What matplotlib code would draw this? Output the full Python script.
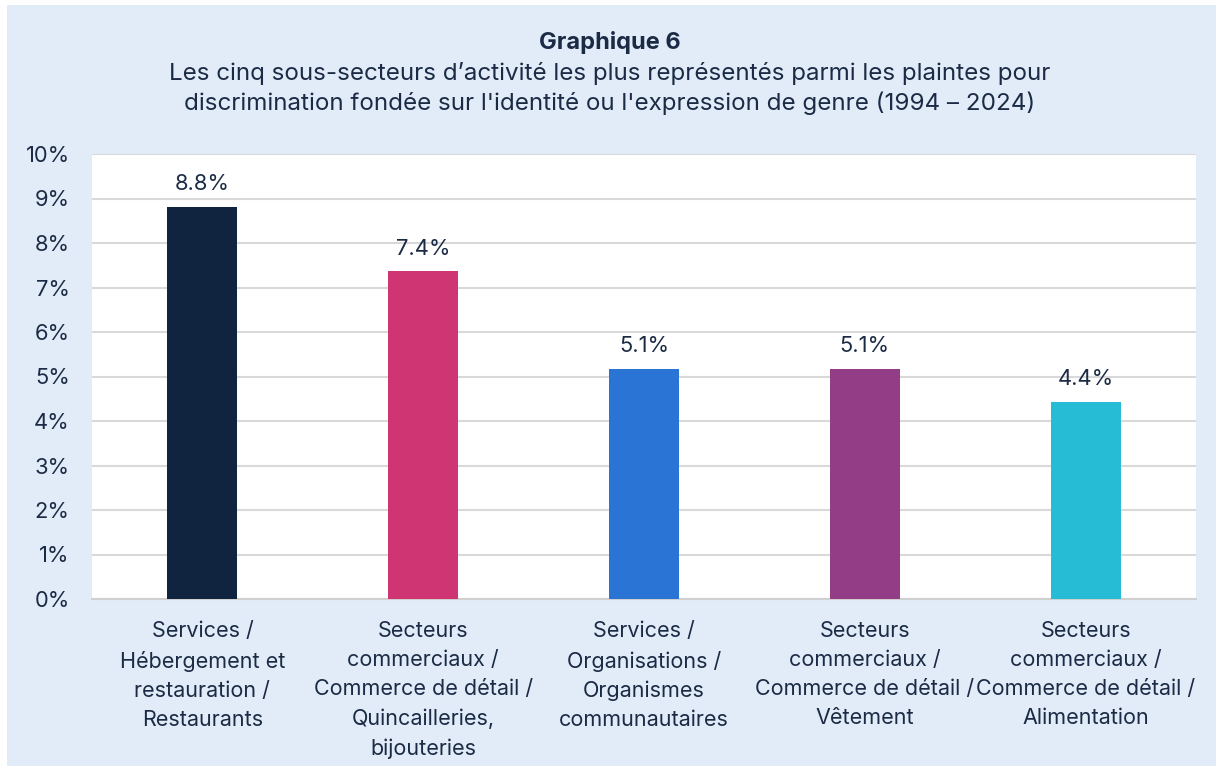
import matplotlib.pyplot as plt
from matplotlib.patches import Rectangle
from matplotlib.ticker import MultipleLocator, FuncFormatter

categories = [
    "Services /\nHébergement et\nrestauration /\nRestaurants",
    "Secteurs\ncommerciaux /\nCommerce de détail /\nQuincailleries,\nbijouteries",
    "Services /\nOrganisations /\nOrganismes\ncommunautaires",
    "Secteurs\ncommerciaux /\nCommerce de détail /\nVêtement",
    "Secteurs\ncommerciaux /\nCommerce de détail /\nAlimentation",
]
values = [8.8, 7.4, 5.1, 5.1, 4.4]
heights = [8.82, 7.36, 5.16, 5.16, 4.42]
colors = ["#10233f", "#cf3572", "#2a74d5", "#943d87", "#27bcd6"]

txt = "#1c2b45"
plt.rcParams['font.family'] = ['Inter', 'DejaVu Sans']
fs = 15.8

fig = plt.figure(figsize=(12.2, 7.71), dpi=100, facecolor="white")
fig.patches.append(Rectangle((7 / 1220, 5 / 771), 1209 / 1220, 761 / 771,
                             transform=fig.transFigure, facecolor="#e1ecf8",
                             edgecolor="none", zorder=-10))

ax = fig.add_axes([92 / 1220, 1 - 599 / 771, 1104 / 1220, 445 / 771])
ax.set_facecolor("white")

x = range(len(categories))
ax.bar(x, heights, width=0.317, color=colors, zorder=3)
for i, v in enumerate(values):
    ax.text(i, heights[i] + 0.29, f"{v:.1f}%", ha="center", va="bottom",
            fontsize=fs, color=txt)

ax.set_xlim(-0.5, len(categories) - 0.5)
ax.set_ylim(0, 10)
ax.yaxis.set_major_locator(MultipleLocator(1))
ax.yaxis.set_major_formatter(FuncFormatter(lambda v, p: f"{v:.0f}%"))
ax.grid(axis="y", color="#d9d9d9", linewidth=1.5, zorder=0)
ax.set_xticks(list(x))
ax.set_xticklabels(categories, fontsize=15.5, color=txt, linespacing=1.56, va="top")
ax.tick_params(axis="x", length=0, pad=16)
ax.tick_params(axis="y", length=0, pad=16, labelsize=fs, labelcolor=txt)
for s in ["top", "right", "left"]:
    ax.spines[s].set_visible(False)
ax.spines["bottom"].set_color("#d0d0d0")
ax.spines["bottom"].set_linewidth(1.5)

fig.text(0.5, 1 - 42 / 771, "Graphique 6", ha="center", va="center",
         fontsize=17, fontweight="bold", color=txt)
fig.text(0.5, 1 - 88.5 / 771,
         "Les cinq sous-secteurs d’activité les plus représentés parmi les plaintes pour\n"
         "discrimination fondée sur l'identité ou l'expression de genre (1994 – 2024)",
         ha="center", va="center", fontsize=17.4, color=txt, linespacing=1.36)

fig.savefig("out.png", dpi=100, facecolor=fig.get_facecolor())
